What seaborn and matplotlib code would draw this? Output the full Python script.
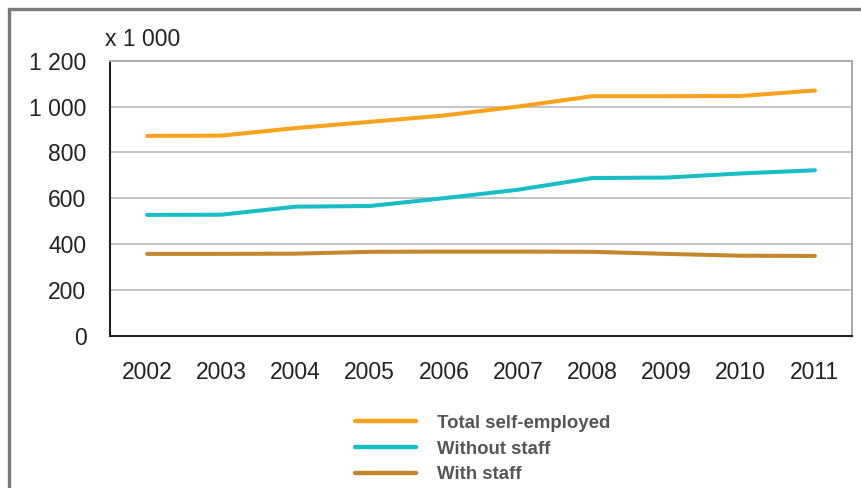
import matplotlib
matplotlib.use("Agg")
import matplotlib.pyplot as plt
from matplotlib.patches import Rectangle
import seaborn as sns
import pandas as pd

years = ["2002", "2003", "2004", "2005", "2006", "2007", "2008", "2009", "2010", "2011"]
total_self_employed = [872, 873, 906, 933, 961, 1000, 1045, 1045, 1046, 1070]
without_staff = [527, 528, 563, 566, 600, 637, 688, 690, 708, 722]
with_staff = [357, 357, 358, 366, 367, 367, 366, 357, 349, 348]
series_names = ["Total self-employed", "Without staff", "With staff"]
y_ticks = [0, 200, 400, 600, 800, 1000, 1200]
y_tick_labels = ["0", "200", "400", "600", "800", "1 000", "1 200"]

colors = {"Total self-employed": "#F9A21B",
          "Without staff": "#19BEC4",
          "With staff": "#C4872B"}

idx = list(range(len(years)))
df = pd.DataFrame({
    "pos": idx * 3,
    "value": total_self_employed + without_staff + with_staff,
    "series": [series_names[0]] * len(years) + [series_names[1]] * len(years) + [series_names[2]] * len(years),
})

sns.set_style("white")
plt.rcParams["font.family"] = ["Liberation Sans", "DejaVu Sans"]

W, H = 862, 488
LABEL_SIZE = 16.5
fig = plt.figure(figsize=(W / 100, H / 100), dpi=100)
ax = fig.add_axes([110 / W, 1 - 335.7 / H, (852 - 110) / W, (335.7 - 60.7) / H])

sns.lineplot(data=df, x="pos", y="value", hue="series", hue_order=series_names,
             palette=colors, linewidth=2.9, ax=ax, legend=False)

ax.set_xlim(-0.5, len(years) - 0.5)
ax.set_ylim(0, 1200)
ax.set_xlabel("")
ax.set_ylabel("")

# y axis
ax.set_yticks(y_ticks)
ax.set_yticklabels(y_tick_labels)
ax.yaxis.grid(True, color="#c4c4c4", linewidth=1.4)
ax.set_axisbelow(True)

# x axis: tick marks between categories, labels centred on categories
ax.set_xticks([i - 0.5 for i in range(len(years) + 1)])
ax.set_xticklabels([""] * (len(years) + 1))
ax.set_xticks(idx, minor=True)
ax.set_xticklabels(years, minor=True)
ax.tick_params(axis="x", which="minor", length=0, pad=18, labelsize=LABEL_SIZE, labelcolor="#222222")
ax.tick_params(axis="x", which="major", length=5, width=1.3, color="#222222", direction="out")
ax.tick_params(axis="y", length=5, width=1.3, color="#222222", direction="out", pad=12,
               labelsize=LABEL_SIZE, labelcolor="#222222")

for side in ("left", "bottom"):
    ax.spines[side].set_color("#222222")
    ax.spines[side].set_linewidth(1.5)
for side in ("top", "right"):
    ax.spines[side].set_color("#a8a8a8")
    ax.spines[side].set_linewidth(1.4)

fig.text(105 / W, 1 - 40 / H, "x 1 000", fontsize=LABEL_SIZE, color="#222222", va="center", ha="left")

# legend below the chart
handles = [plt.Line2D([], [], color=colors[s], linewidth=3.2) for s in series_names]
leg = fig.legend(handles, series_names, loc="upper left",
                 bbox_to_anchor=(338 / W, 1 - 398 / H), frameon=False,
                 handlelength=3.3, handletextpad=1.13, labelspacing=0.47,
                 prop={"weight": "bold", "size": 13.4})
for t in leg.get_texts():
    t.set_color("#555555")

# outer frame
fig.patches.append(Rectangle((9.5 / W, -0.1), 1.2, 1 - 9 / H + 0.1, transform=fig.transFigure,
                             fill=False, edgecolor="#7a7a7a", linewidth=2.4))

fig.savefig("out.png", dpi=100)
